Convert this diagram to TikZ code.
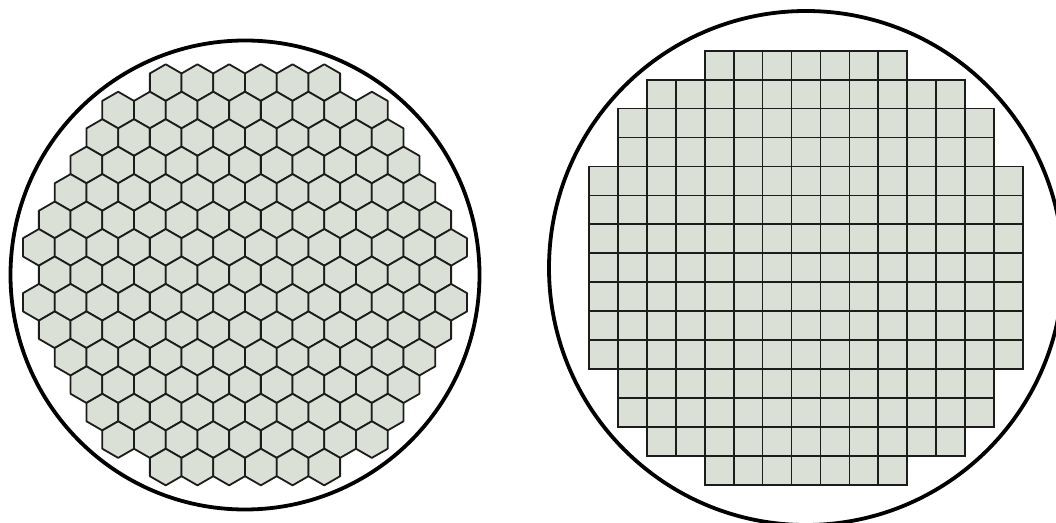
\documentclass[tikz,border=0pt]{standalone}
\usepackage{tikz}
\definecolor{cellfill}{RGB}{218,224,214}
\definecolor{celledge}{RGB}{28,28,28}
\newcommand{\hexw}{31.71}
\newcommand{\hexr}{18.31}
\newcommand{\hexdy}{27.46}
\newcommand{\sqside}{28.95}

\begin{document}
\begin{tikzpicture}[
  x=0.5pt, y=-0.5pt,
  wafer/.style={draw=black,line width=1.9pt},
  hexcell/.style={draw=celledge,fill=cellfill,line width=0.9pt,line join=round},
  sqcell/.style={draw=celledge,fill=cellfill,line width=0.9pt}
]
  \useasboundingbox (0,0) rectangle (1056,523);

  % left wafer: hexagonal cells, row/count
  \foreach \r/\n in {0/6,1/9,2/10,3/11,4/12,5/13,6/14,7/13,8/14,9/13,10/12,11/11,12/10,13/9,14/6} {
    \foreach \k in {1,...,\n} {
      \pgfmathsetmacro{\cx}{245+(\k-(\n+1)/2)*\hexw}
      \pgfmathsetmacro{\cy}{82.6+\r*\hexdy}
      \draw[hexcell] (\cx,\cy) +(90:\hexr) -- +(30:\hexr) -- +(-30:\hexr)
        -- +(-90:\hexr) -- +(-150:\hexr) -- +(150:\hexr) -- cycle;
    }
  }
  \draw[wafer] (245,275) circle [radius=234.5];

  % right wafer: square cells, row/count
  \foreach \r/\n in {0/7,1/11,2/13,3/13,4/15,5/15,6/15,7/15,8/15,9/15,10/15,11/13,12/13,13/11,14/7} {
    \foreach \k in {1,...,\n} {
      \pgfmathsetmacro{\sx}{806+(\k-1-\n/2)*\sqside}
      \pgfmathsetmacro{\sy}{50.7+\r*\sqside}
      \draw[sqcell] (\sx,\sy) rectangle ++(\sqside,\sqside);
    }
  }
  \draw[wafer] (806,268) circle [radius=257];
\end{tikzpicture}
\end{document}
